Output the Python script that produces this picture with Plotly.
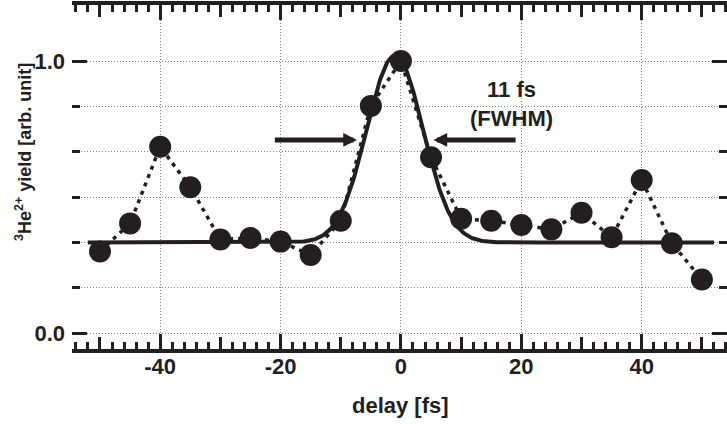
import numpy as np
import plotly.graph_objects as go

# ---- data ----
delay_fs = [-50, -45, -40, -35, -30, -25, -20, -15, -10, -5, 0,
            5, 10, 15, 20, 25, 30, 35, 40, 45, 50]
yield_au = [0.30, 0.403, 0.685, 0.536, 0.344, 0.349, 0.336, 0.287, 0.413, 0.835, 1.0,
            0.646, 0.42, 0.413, 0.397, 0.381, 0.442, 0.352, 0.5625, 0.33, 0.197]

# Gaussian fit parameters (FWHM 11 fs)
FIT_BASELINE = 0.333
FIT_AMPLITUDE = 0.687
FIT_CENTER = -1.0
FIT_FWHM = 11.0
FIT_XMIN, FIT_XMAX = -52.0, 52.0

x_major_ticks = [-40, -20, 0, 20, 40]
x_mid_ticks = [-50, -30, -10, 10, 30, 50]
y_major_ticks = [0.0, 1.0]
y_minor_ticks = [i / 6 for i in range(7)]

# arrow annotation positions (fs, yield)
arrow_left = dict(tip=-7.3, tail=-21.2, y=0.71)
arrow_right = dict(tip=5.4, tail=19.3, y=0.71)

BLACK = "#231f20"
GRID = "#808080"
FONT = "Liberation Sans, Arial, Helvetica, sans-serif"

fit_x = np.linspace(FIT_XMIN, FIT_XMAX, 600)
fit_y = FIT_BASELINE + FIT_AMPLITUDE * np.exp(-4 * np.log(2) * (fit_x - FIT_CENTER) ** 2 / FIT_FWHM ** 2)

fig = go.Figure()
fig.add_trace(go.Scatter(x=fit_x, y=fit_y, mode="lines",
                         line=dict(color=BLACK, width=4), hoverinfo="skip", showlegend=False))
fig.add_trace(go.Scatter(x=delay_fs, y=yield_au, mode="lines+markers",
                         line=dict(color=BLACK, width=3.5, dash="4px,5px"),
                         marker=dict(size=22, color=BLACK), showlegend=False))
# empty trace so the overlay axis carrying the 10-fs ticks is drawn
fig.add_trace(go.Scatter(x=[], y=[], xaxis="x3", yaxis="y", showlegend=False, hoverinfo="skip"))

XR = [-54.65, 54.17]
YR = [-0.0588, 1.2059]

tickfont = dict(family=FONT, size=22, color=BLACK, weight="bold")

fig.update_layout(
    width=727, height=424,
    margin=dict(l=72, r=0, t=5, b=75, autoexpand=False),
    paper_bgcolor="white", plot_bgcolor="white",
    xaxis=dict(range=XR, tickmode="array", tickvals=x_major_ticks,
               ticktext=[str(v) for v in x_major_ticks], automargin=False,
               ticks="inside", ticklen=15, tickwidth=3, tickcolor=BLACK,
               showline=True, linewidth=4, linecolor=BLACK, mirror="ticks",
               showgrid=True, gridcolor=GRID, gridwidth=1, griddash="1px,2px",
               zeroline=False, tickfont=tickfont, ticklabelstandoff=-5,
               minor=dict(tickmode="linear", tick0=0, dtick=2, ticks="inside",
                          ticklen=7, tickwidth=3, tickcolor=BLACK, showgrid=False)),
    xaxis3=dict(range=XR, matches="x", overlaying="x", anchor="y", automargin=False,
                tickmode="array", tickvals=x_mid_ticks, ticks="inside", ticklen=12,
                tickwidth=3, tickcolor=BLACK, showticklabels=False, showline=False,
                mirror="ticks", showgrid=False, zeroline=False),
    yaxis=dict(range=YR, tickmode="array", tickvals=y_major_ticks,
               ticktext=["0.0", "1.0"], automargin=False,
               ticks="inside", ticklen=15, tickwidth=3, tickcolor=BLACK,
               showline=False, mirror="ticks",
               showgrid=True, gridcolor=GRID, gridwidth=1, griddash="1px,2px",
               zeroline=False, tickfont=tickfont, ticklabelstandoff=6,
               minor=dict(tickmode="array", tickvals=y_minor_ticks, ticks="inside",
                          ticklen=8, tickwidth=3, tickcolor=BLACK,
                          showgrid=True, gridcolor=GRID, gridwidth=1, griddash="1px,2px")),
    yaxis2=dict(range=YR, matches="y", overlaying="y", anchor="x", side="left",
                automargin=False,
                showline=True, linewidth=4, linecolor=BLACK, ticks="",
                showticklabels=False, showgrid=False, zeroline=False),
)

annotations = []
for a in (arrow_left, arrow_right):
    annotations.append(dict(x=a["tip"], y=a["y"], ax=a["tail"], ay=a["y"],
                            xref="x", yref="y", axref="x", ayref="y",
                            text="", showarrow=True, arrowhead=2, arrowsize=0.55,
                            arrowwidth=5, arrowcolor=BLACK, standoff=0))
annotations.append(dict(x=18.3, y=(333 - 103.5) / 272, xref="x", yref="y",
                        text="11 fs<br>(FWHM)", align="center", yanchor="middle",
                        showarrow=False, font=dict(family=FONT, size=22, color=BLACK, weight="bold")))
annotations.append(dict(x=0, y=-0.165, xref="x", yref="paper", text="delay [fs]",
                        showarrow=False, yanchor="middle",
                        font=dict(family=FONT, size=22, color=BLACK, weight="bold")))
annotations.append(dict(x=-0.073, y=0.573, xref="paper", yref="paper",
                        text="<sup>3</sup>He<sup>2+</sup> yield [arb. unit]", textangle=-90,
                        showarrow=False, xanchor="center", yanchor="middle",
                        font=dict(family=FONT, size=18, color=BLACK, weight="bold")))
fig.update_layout(annotations=annotations)

fig.write_html("out.html", config={"displayModeBar": False},
               post_script="document.body.style.margin='0';document.body.style.padding='0';")
